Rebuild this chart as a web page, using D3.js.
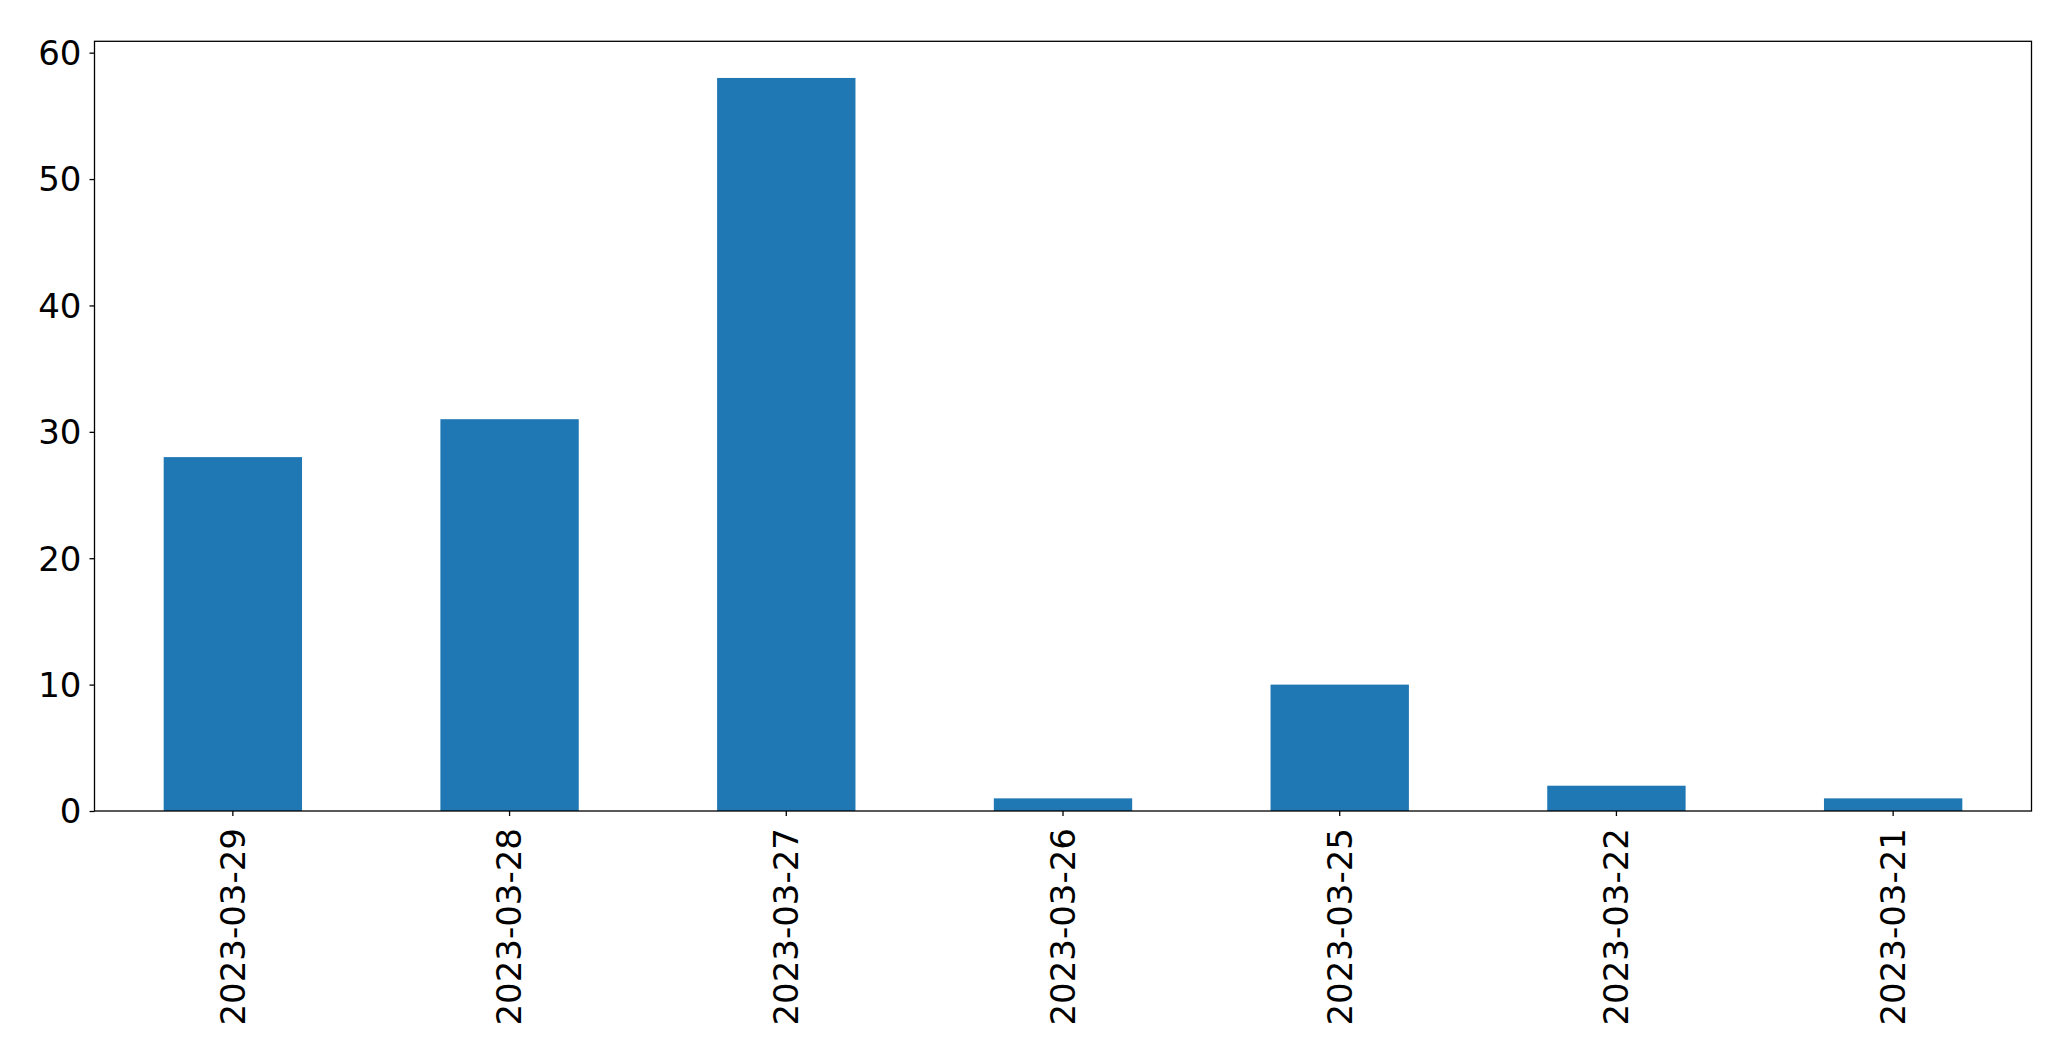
<!DOCTYPE html>
<html>
<head>
<meta charset="utf-8">
<script src="https://cdn.jsdelivr.net/npm/d3@7"></script>
<style>
html,body{margin:0;padding:0;background:#fff;}
svg{display:block;}
text{font-family:"DejaVu Sans",sans-serif;fill:#000;}
</style>
</head>
<body>
<svg id="chart" width="2071" height="1063"></svg>
<script>
const categories = ["2023-03-29","2023-03-28","2023-03-27","2023-03-26","2023-03-25","2023-03-22","2023-03-21"];
const values = [28, 31, 58, 1, 10, 2, 1];
const yTicks = [0, 10, 20, 30, 40, 50, 60];

(function () {
const plotL = 94.5, plotR = 2031.5, plotT = 41.3, plotB = 811;
const svg = d3.select("#chart");

const x = d3.scaleBand().domain(categories).range([plotL, plotR]).paddingInner(0.5).paddingOuter(0.25);
const y = d3.scaleLinear().domain([0, d3.max(values) * 1.05]).range([plotB, plotT]);

svg.append("g").selectAll("rect").data(values).join("rect")
  .attr("x", (d, i) => x(categories[i]))
  .attr("width", x.bandwidth())
  .attr("y", d => y(d))
  .attr("height", d => y(0) - y(d))
  .attr("fill", "#1f77b4");

// frame
svg.append("rect").attr("x", plotL).attr("y", plotT).attr("width", plotR - plotL).attr("height", plotB - plotT)
  .attr("fill", "none").attr("stroke", "#000").attr("stroke-width", 1.3);

// y axis
const yAxis = d3.axisLeft(y).tickValues(yTicks).tickSize(5).tickPadding(8).tickFormat(d3.format("d"));
const gy = svg.append("g").attr("transform", `translate(${plotL},0)`).call(yAxis);
gy.select(".domain").remove();
gy.selectAll(".tick line").attr("stroke", "#000").attr("stroke-width", 1.3);
gy.selectAll(".tick text").attr("font-size", 34).attr("font-family", "DejaVu Sans").attr("fill", "#000").attr("dy", "0.35em");

// x axis
const xAxis = d3.axisBottom(x).tickSize(5).tickPadding(0);
const gx = svg.append("g").attr("transform", `translate(0,${plotB})`).call(xAxis);
gx.select(".domain").remove();
gx.selectAll(".tick line").attr("stroke", "#000").attr("stroke-width", 1.3);
gx.selectAll(".tick text")
  .attr("font-size", 34).attr("font-family", "DejaVu Sans").attr("fill", "#000")
  .attr("text-anchor", "end")
  .attr("transform", "translate(0,17) rotate(-90)")
  .attr("x", 0).attr("y", 0).attr("dy", "0.35em");
})();
</script>
</body>
</html>
